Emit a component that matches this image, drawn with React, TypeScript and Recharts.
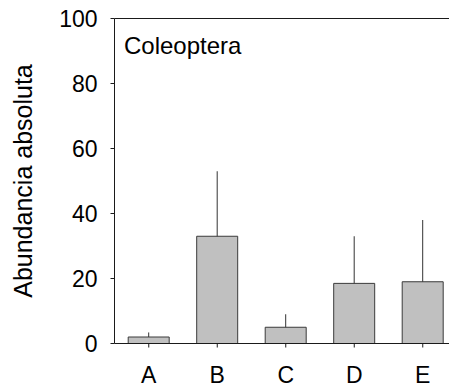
import { Bar, BarChart, ErrorBar, ReferenceLine, XAxis, YAxis } from 'recharts';

const categories = ['A', 'B', 'C', 'D', 'E'];
const means = [2, 33, 5, 18.5, 19];
// upper error only, the plot shows one-sided bars
const upperErr = [1.4, 20, 4, 14.5, 19];
const yTicks = [0, 20, 40, 60, 80, 100];

const font = '"Liberation Sans", Arial, sans-serif';
const ink = '#1a1a1a';

const data = categories.map((c, i) => ({
  label: c,
  value: means[i],
  err: [0, upperErr[i]],
}));

export default function App() {
  return (
    <div
      style={{
        position: 'fixed',
        left: 0,
        top: 0,
        width: 449,
        height: 389,
        overflow: 'hidden',
        background: '#fff',
      }}
    >
      <BarChart
        width={457}
        height={389}
        data={data}
        barCategoryGap="20%"
        margin={{ top: 18.5, right: 0, bottom: 0, left: 0 }}
        style={{ fontFamily: font }}
      >
        <XAxis
          dataKey="label"
          height={45.5}
          tickSize={4}
          tickMargin={19}
          stroke={ink}
          tick={{ fontSize: 23, fill: '#000', fontFamily: font }}
        />
        <YAxis
          width={114.5}
          domain={[0, 100]}
          ticks={yTicks}
          tickSize={4}
          tickMargin={13}
          stroke={ink}
          tick={{ fontSize: 23, fill: '#000', fontFamily: font }}
          label={{
            value: 'Abundancia absoluta',
            angle: -90,
            position: 'insideLeft',
            offset: 23,
            fill: '#000',
            fontSize: 25,
            fontFamily: font,
            style: { textAnchor: 'middle' },
          }}
        />
        <ReferenceLine y={100} stroke={ink} ifOverflow="visible" />
        <Bar
          dataKey="value"
          fill="#c0c0c0"
          stroke="#3a3a3a"
          strokeWidth={1}
          isAnimationActive={false}
        >
          <ErrorBar dataKey="err" direction="y" width={0} stroke="#333" strokeWidth={1} />
        </Bar>
        <text x={124} y={54} fontSize={24} fontFamily={font} fill="#000">
          Coleoptera
        </text>
      </BarChart>
    </div>
  );
}
